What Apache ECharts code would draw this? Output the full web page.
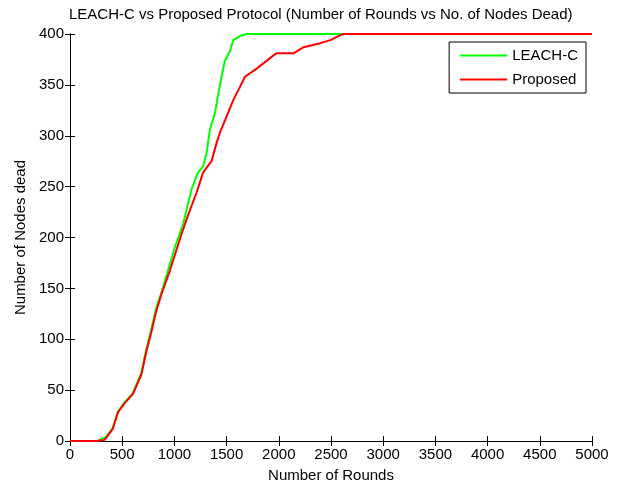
<!DOCTYPE html>
<html>
<head>
<meta charset="utf-8">
<script src="https://cdn.jsdelivr.net/npm/echarts@6/dist/echarts.min.js"></script>
<style>html,body{margin:0;padding:0;background:#fff;}#c{width:618px;height:488px;}</style>
</head>
<body>
<div id="c"></div>
<script>
var xTicks = [0,500,1000,1500,2000,2500,3000,3500,4000,4500,5000];
var yTicks = [0,50,100,150,200,250,300,350,400];
var leachRounds = [0,265,300,346,410,459,522,602,683,731,779,827,891,1003,1083,1163,1227,1275,1308,1340,1388,1420,1452,1484,1532,1564,1628,1692,5000];
var leachDead   = [0,0,2,4,13,29,38,47,67,90,110,131,151,190,213,247,264,270,283,306,322,341,358,374,383,394,398,400,400];
var propRounds = [0,250,330,346,410,459,522,602,683,731,779,827,875,955,1067,1131,1212,1275,1356,1404,1436,1500,1564,1628,1676,1788,1949,1981,2141,2237,2397,2494,2590,2630,5000];
var propDead   = [0,0,1,3,12,28,37,46,65,88,107,128,144,167,203,222,244,264,275,293,303,319,335,348,358,366,379,381,381,387,391,394,399,400,400];

function pairs(xs, ys){ return xs.map(function(x,i){ return [x, ys[i]]; }); }

var font = 'Arial, "Liberation Sans", sans-serif';
var fs = 15;
var chart = echarts.init(document.getElementById('c'), null, {renderer:'canvas'});
var axisCommon = {
  axisLine:{show:true, lineStyle:{color:'#000', width:1}},
  axisTick:{show:true, inside:true, length:5, lineStyle:{color:'#000'}},
  splitLine:{show:false}
};
function plain(v){ return String(v); }
chart.setOption({
  backgroundColor:'#fff',
  animation:false,
  title:{
    text:'LEACH-C vs Proposed Protocol (Number of Rounds vs No. of Nodes Dead)',
    left:69, top:7, padding:0,
    textStyle:{fontFamily:font, fontSize:fs, fontWeight:'normal', color:'#000'}
  },
  legend:{
    orient:'vertical', right:32, top:42,
    backgroundColor:'#fff', borderColor:'#000', borderWidth:1,
    padding:[6,8,6,10], itemWidth:47, itemHeight:14, itemGap:9,
    itemStyle:{opacity:0},
    textStyle:{fontFamily:font, fontSize:fs, color:'#000'},
    data:['LEACH-C','Proposed']
  },
  grid:{left:70, right:26, top:34, bottom:42},
  xAxis:[
    Object.assign({type:'value', min:0, max:5000, interval:500, position:'bottom',
      name:'Number of Rounds', nameLocation:'middle', nameGap:27,
      nameTextStyle:{fontFamily:font, fontSize:fs, color:'#000'},
      axisLabel:{fontFamily:font, fontSize:fs, color:'#000', margin:6, formatter:plain}}, axisCommon),
    Object.assign({type:'value', min:0, max:5000, interval:500, position:'top',
      axisLabel:{show:false}}, axisCommon)
  ],
  yAxis:[
    Object.assign({type:'value', min:0, max:400, interval:50, position:'left',
      name:'Number of Nodes dead', nameLocation:'middle', nameGap:41,
      nameTextStyle:{fontFamily:font, fontSize:fs, color:'#000'},
      axisLabel:{fontFamily:font, fontSize:fs, color:'#000', margin:6, formatter:plain}}, axisCommon),
    Object.assign({type:'value', min:0, max:400, interval:50, position:'right',
      axisLabel:{show:false}}, axisCommon)
  ],
  series:[
    {name:'LEACH-C', type:'line', symbol:'none', clip:false, data:pairs(leachRounds, leachDead),
     lineStyle:{color:'#00ff00', width:2}, itemStyle:{color:'#00ff00'}, z:2},
    {name:'Proposed', type:'line', symbol:'none', clip:false, data:pairs(propRounds, propDead),
     lineStyle:{color:'#ff0000', width:2}, itemStyle:{color:'#ff0000'}, z:3}
  ]
});
</script>
</body>
</html>
